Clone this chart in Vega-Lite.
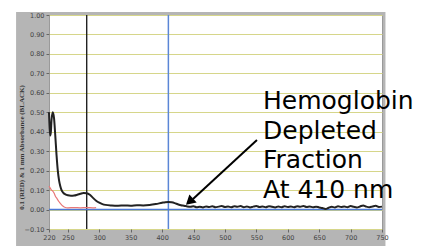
{
  "$schema": "https://vega.github.io/schema/vega-lite/v6.json",
  "width": 333,
  "height": 214,
  "autosize": {"type": "none"},
  "padding": {"left": 49, "top": 15, "right": 42, "bottom": 17},
  "background": "#b5b5b5",
  "config": {
    "view": {"fill": "white", "stroke": "#9a9a9a", "strokeWidth": 1},
    "axis": {"labelFont": "DejaVu Sans", "labelFontSize": 6.5, "labelColor": "#444", "labelOverlap": false, "labelFlush": false, "tickColor": "#666", "tickSize": 3, "domain": false, "titleFont": "Liberation Serif", "titleFontWeight": "bold", "titleFontSize": 7, "titleColor": "#333"}
  },
  "layer": [
    {
      "data": {"values": [{"a": 1}]},
      "mark": {"type": "rect", "color": "white"},
      "encoding": {
        "x": {"datum": 120, "type": "quantitative"},
        "x2": {"datum": 167.6},
        "y": {"datum": -0.3, "type": "quantitative"},
        "y2": {"datum": 1.3}
      }
    },
    {
      "data": {"values": [{"a": 1}]},
      "mark": {"type": "rect", "color": "white"},
      "encoding": {
        "x": {"datum": 120, "type": "quantitative"},
        "x2": {"datum": 840},
        "y": {"datum": 1.0155, "type": "quantitative"},
        "y2": {"datum": 1.3}
      }
    },
    {
      "data": {"values": [{"a": 1}]},
      "mark": {"type": "rect", "color": "white"},
      "encoding": {
        "x": {"datum": 755.5, "type": "quantitative"},
        "x2": {"datum": 840},
        "y": {"datum": -0.3, "type": "quantitative"},
        "y2": {"datum": 1.3}
      }
    },
    {
      "data": {"values": [{"a": 1}]},
      "mark": {"type": "rule", "color": "#222", "strokeWidth": 1.4},
      "encoding": {"x": {"datum": 280, "type": "quantitative"}}
    },
    {
      "data": {"values": [{"a": 1}]},
      "mark": {"type": "rule", "color": "#5b86d6", "strokeWidth": 1.5},
      "encoding": {"x": {"datum": 410, "type": "quantitative"}}
    },
    {
      "data": {"values": [{"a": 1}]},
      "mark": {"type": "rule", "color": "#4a78d8", "strokeWidth": 1.5},
      "encoding": {"y": {"datum": 0, "type": "quantitative"}}
    },
    {
      "data": {"values": [
        {"wl": 220, "abs": 0.50, "s": "black"}, {"wl": 221, "abs": 0.42, "s": "black"}, {"wl": 222, "abs": 0.38, "s": "black"}, {"wl": 223, "abs": 0.40, "s": "black"}, {"wl": 224, "abs": 0.46, "s": "black"}, {"wl": 226, "abs": 0.50, "s": "black"}, {"wl": 228, "abs": 0.47, "s": "black"}, {"wl": 230, "abs": 0.38, "s": "black"}, {"wl": 232, "abs": 0.28, "s": "black"}, {"wl": 234, "abs": 0.20, "s": "black"}, {"wl": 236, "abs": 0.15, "s": "black"}, {"wl": 238, "abs": 0.12, "s": "black"}, {"wl": 240, "abs": 0.10, "s": "black"}, {"wl": 243, "abs": 0.085, "s": "black"}, {"wl": 246, "abs": 0.078, "s": "black"}, {"wl": 250, "abs": 0.073, "s": "black"}, {"wl": 255, "abs": 0.071, "s": "black"}, {"wl": 260, "abs": 0.072, "s": "black"}, {"wl": 265, "abs": 0.076, "s": "black"}, {"wl": 270, "abs": 0.081, "s": "black"}, {"wl": 275, "abs": 0.085, "s": "black"}, {"wl": 280, "abs": 0.084, "s": "black"}, {"wl": 285, "abs": 0.076, "s": "black"}, {"wl": 290, "abs": 0.06, "s": "black"}, {"wl": 295, "abs": 0.045, "s": "black"}, {"wl": 300, "abs": 0.035, "s": "black"}, {"wl": 305, "abs": 0.028, "s": "black"}, {"wl": 310, "abs": 0.024, "s": "black"}, {"wl": 320, "abs": 0.021, "s": "black"}, {"wl": 330, "abs": 0.02, "s": "black"}, {"wl": 340, "abs": 0.021, "s": "black"}, {"wl": 350, "abs": 0.02, "s": "black"}, {"wl": 360, "abs": 0.022, "s": "black"}, {"wl": 370, "abs": 0.021, "s": "black"}, {"wl": 380, "abs": 0.023, "s": "black"}, {"wl": 390, "abs": 0.028, "s": "black"}, {"wl": 400, "abs": 0.035, "s": "black"}, {"wl": 405, "abs": 0.038, "s": "black"}, {"wl": 410, "abs": 0.039, "s": "black"}, {"wl": 415, "abs": 0.037, "s": "black"}, {"wl": 420, "abs": 0.033, "s": "black"}, {"wl": 425, "abs": 0.027, "s": "black"}, {"wl": 430, "abs": 0.022, "s": "black"}, {"wl": 435, "abs": 0.02, "s": "black"}, {"wl": 440, "abs": 0.016, "s": "black"}, {"wl": 445, "abs": 0.014, "s": "black"}, {"wl": 450, "abs": 0.017, "s": "black"}, {"wl": 455, "abs": 0.012, "s": "black"}, {"wl": 460, "abs": 0.015, "s": "black"}, {"wl": 465, "abs": 0.011, "s": "black"}, {"wl": 470, "abs": 0.016, "s": "black"}, {"wl": 475, "abs": 0.013, "s": "black"}, {"wl": 480, "abs": 0.017, "s": "black"}, {"wl": 485, "abs": 0.012, "s": "black"}, {"wl": 490, "abs": 0.015, "s": "black"}, {"wl": 495, "abs": 0.018, "s": "black"}, {"wl": 500, "abs": 0.013, "s": "black"}, {"wl": 505, "abs": 0.016, "s": "black"}, {"wl": 510, "abs": 0.012, "s": "black"}, {"wl": 515, "abs": 0.017, "s": "black"}, {"wl": 520, "abs": 0.014, "s": "black"}, {"wl": 525, "abs": 0.018, "s": "black"}, {"wl": 530, "abs": 0.012, "s": "black"}, {"wl": 535, "abs": 0.016, "s": "black"}, {"wl": 540, "abs": 0.011, "s": "black"}, {"wl": 545, "abs": 0.015, "s": "black"}, {"wl": 550, "abs": 0.018, "s": "black"}, {"wl": 555, "abs": 0.013, "s": "black"}, {"wl": 560, "abs": 0.016, "s": "black"}, {"wl": 565, "abs": 0.012, "s": "black"}, {"wl": 570, "abs": 0.017, "s": "black"}, {"wl": 575, "abs": 0.014, "s": "black"}, {"wl": 580, "abs": 0.011, "s": "black"}, {"wl": 585, "abs": 0.016, "s": "black"}, {"wl": 590, "abs": 0.012, "s": "black"}, {"wl": 595, "abs": 0.017, "s": "black"}, {"wl": 600, "abs": 0.013, "s": "black"}, {"wl": 605, "abs": 0.016, "s": "black"}, {"wl": 610, "abs": 0.012, "s": "black"}, {"wl": 615, "abs": 0.017, "s": "black"}, {"wl": 620, "abs": 0.014, "s": "black"}, {"wl": 625, "abs": 0.018, "s": "black"}, {"wl": 630, "abs": 0.013, "s": "black"}, {"wl": 635, "abs": 0.016, "s": "black"}, {"wl": 640, "abs": 0.012, "s": "black"}, {"wl": 645, "abs": 0.015, "s": "black"}, {"wl": 650, "abs": 0.011, "s": "black"}, {"wl": 655, "abs": 0.008, "s": "black"}, {"wl": 660, "abs": 0.003, "s": "black"}, {"wl": 665, "abs": 0.009, "s": "black"}, {"wl": 670, "abs": 0.014, "s": "black"}, {"wl": 675, "abs": 0.011, "s": "black"}, {"wl": 680, "abs": 0.017, "s": "black"}, {"wl": 685, "abs": 0.013, "s": "black"}, {"wl": 690, "abs": 0.016, "s": "black"}, {"wl": 695, "abs": 0.012, "s": "black"}, {"wl": 700, "abs": 0.018, "s": "black"}, {"wl": 705, "abs": 0.014, "s": "black"}, {"wl": 710, "abs": 0.011, "s": "black"}, {"wl": 715, "abs": 0.016, "s": "black"}, {"wl": 720, "abs": 0.021, "s": "black"}, {"wl": 725, "abs": 0.015, "s": "black"}, {"wl": 730, "abs": 0.012, "s": "black"}, {"wl": 735, "abs": 0.016, "s": "black"}, {"wl": 740, "abs": 0.019, "s": "black"}, {"wl": 745, "abs": 0.013, "s": "black"}, {"wl": 750, "abs": 0.015, "s": "black"},
        {"wl": 220, "abs": 0.12, "s": "red"}, {"wl": 222, "abs": 0.11, "s": "red"}, {"wl": 224, "abs": 0.10, "s": "red"}, {"wl": 226, "abs": 0.095, "s": "red"}, {"wl": 228, "abs": 0.085, "s": "red"}, {"wl": 230, "abs": 0.07, "s": "red"}, {"wl": 233, "abs": 0.055, "s": "red"}, {"wl": 236, "abs": 0.04, "s": "red"}, {"wl": 239, "abs": 0.028, "s": "red"}, {"wl": 242, "abs": 0.018, "s": "red"}, {"wl": 245, "abs": 0.012, "s": "red"}, {"wl": 250, "abs": 0.009, "s": "red"}, {"wl": 260, "abs": 0.01, "s": "red"}, {"wl": 270, "abs": 0.009, "s": "red"}, {"wl": 280, "abs": 0.01, "s": "red"}, {"wl": 290, "abs": 0.009, "s": "red"}, {"wl": 295, "abs": 0.01, "s": "red"}
      ]},
      "mark": {"type": "line", "interpolate": "monotone"},
      "encoding": {
        "x": {"field": "wl", "type": "quantitative", "title": "Wavelength nm",
          "scale": {"domain": [220, 750], "nice": false, "zero": false},
          "axis": {"values": [220, 250, 300, 350, 400, 450, 500, 550, 600, 650, 700, 750], "tickCount": 30, "zindex": 1, "labelOverlap": false, "labelFlush": false, "grid": false, "labelPadding": 2, "titleBaseline": "top", "titleY": 16}},
        "y": {"field": "abs", "type": "quantitative", "title": "0.1 (RED) & 1 mm Absorbance (BLACK)",
          "scale": {"domain": [-0.1, 1.0], "nice": false, "zero": false},
          "axis": {"values": [-0.1, 0, 0.1, 0.2, 0.3, 0.4, 0.5, 0.6, 0.7, 0.8, 0.9, 1.0], "tickCount": 30, "labelOverlap": false, "labelFlush": false, "format": ".2f", "labelPadding": 2, "grid": true, "gridColor": "#d6d68a", "gridWidth": 1.2, "titleX": -28, "titleY": 132, "titleBaseline": "middle"}},
        "color": {"field": "s", "type": "nominal", "scale": {"domain": ["black", "red"], "range": ["#222222", "#e87878"]}, "legend": null},
        "strokeWidth": {"field": "s", "type": "nominal", "scale": {"domain": ["black", "red"], "range": [2, 1.2]}, "legend": null}
      }
    },
    {
      "data": {"values": [{"a": 1}]},
      "mark": {"type": "rule", "color": "black", "strokeWidth": 2},
      "encoding": {
        "x": {"datum": 551, "type": "quantitative"},
        "y": {"datum": 0.3575, "type": "quantitative"},
        "x2": {"datum": 449.2},
        "y2": {"datum": 0.054}
      }
    },
    {
      "data": {"values": [{"a": 1}]},
      "mark": {"type": "point", "shape": "triangle", "filled": true, "color": "black", "size": 120, "opacity": 1, "angle": 228},
      "encoding": {
        "x": {"datum": 445.5, "type": "quantitative"},
        "y": {"datum": 0.046, "type": "quantitative"}
      }
    },
    {
      "data": {"values": [{"a": 1}]},
      "mark": {"type": "text", "text": ["Hemoglobin", "Depleted", "Fraction", "At 410 nm"], "font": "DejaVu Sans", "fontSize": 25, "lineHeight": 29.5, "align": "left", "baseline": "top", "color": "black"},
      "encoding": {
        "x": {"datum": 560.6, "type": "quantitative"},
        "y": {"datum": 0.619, "type": "quantitative"}
      }
    }
  ]
}
